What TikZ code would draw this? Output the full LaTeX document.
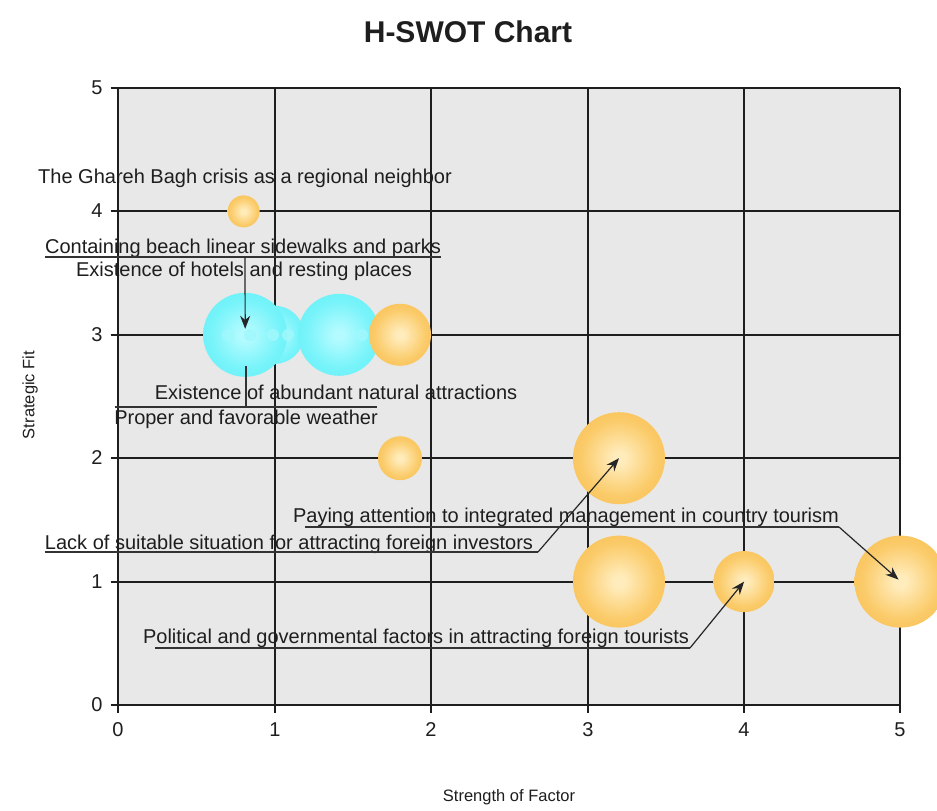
\documentclass[tikz,border=0pt]{standalone}
\usepackage{fontspec}
\setmainfont{Liberation Sans}
\usetikzlibrary{arrows.meta}
\definecolor{plotbg}{RGB}{232,232,232}
\definecolor{gridc}{RGB}{30,30,30}
\definecolor{txt}{RGB}{30,30,30}
\definecolor{oedge}{RGB}{243,170,45}
\definecolor{oout}{RGB}{247,184,66}
\definecolor{omid}{RGB}{251,204,108}
\definecolor{ocenter}{RGB}{255,236,188}
\definecolor{cedge}{RGB}{72,232,242}
\definecolor{cout}{RGB}{92,238,246}
\definecolor{cmid}{RGB}{120,244,250}
\definecolor{ccenter}{RGB}{180,251,255}
\definecolor{cdot}{RGB}{160,248,252}
\pgfdeclareradialshading{orangeball}{\pgfpoint{0bp}{0bp}}{color(0bp)=(ocenter); color(3bp)=(ocenter); color(20bp)=(omid); color(38bp)=(oout); color(50bp)=(oedge); color(100bp)=(oedge)}
\pgfdeclareradialshading{cyanball}{\pgfpoint{0bp}{0bp}}{color(0bp)=(ccenter); color(3bp)=(ccenter); color(20bp)=(cmid); color(38bp)=(cout); color(50bp)=(cedge); color(100bp)=(cedge)}
\begin{document}
\begin{tikzpicture}[x=1pt,y=-1pt,
  lab/.style={font=\fontsize{20}{24}\selectfont, inner sep=0pt, anchor=base, text=txt},
  ticklab/.style={font=\fontsize{20}{24}\selectfont, inner sep=0pt, text=txt},
  axlab/.style={font=\fontsize{16.5}{20}\selectfont, inner sep=0pt, text=txt},
  gridline/.style={draw=gridc, line width=1.8pt},
  obub/.style={circle, inner sep=0pt, draw=none, shading=orangeball},
  cbub/.style={circle, inner sep=0pt, draw=none, shading=cyanball},
  uline/.style={draw=black!80, line width=1.2pt},
  callarrow/.style={draw=black!85, line width=1.2pt, -{Stealth[length=13pt,width=10pt]}}]
\useasboundingbox (0,0) rectangle (937,811);
\fill[white] (0,0) rectangle (937,811);
\node[font=\fontsize{30}{36}\selectfont\bfseries, inner sep=0pt, anchor=base, text=txt] (title) at (468,42) {H-SWOT Chart};
\node[axlab, rotate=90] (ylab) at (30,395) {Strategic Fit};
\node[axlab] (xlab) at (509,797) {Strength of Factor};
% plot area and grid (pixel-aligned)
\fill[plotbg] (118,88) rectangle (900,705);
\foreach \gx/\i in {118/0,275/1,431/2,588/3,744/4,900/5} {
  \draw[gridline] (\gx,88) -- (\gx,713);
  \node[ticklab] (xt\i) at (\gx,730) {\i};
}
\foreach \gy/\i in {705/0,582/1,458/2,335/3,211/4,88/5} {
  \draw[gridline] (110.5,\gy) -- (900,\gy);
  \node[ticklab] (yt\i) at (97,\gy) {\i};
}
\begin{scope}[shift={(118.5,705)}, x=156.4pt, y=123.4pt]
  % cyan bubbles
  \node[cbub, minimum size=58pt] (cy2) at (1.0,3) {};
  \node[cbub, minimum size=84pt] (cy1) at (0.81,3) {};
  \node[cbub, minimum size=82pt] (cy3) at (1.41,3) {};
  % orange bubbles
  \node[obub, minimum size=32pt] (ob1) at (0.8,4) {};
  \node[obub, minimum size=62pt] (ob2) at (1.8,3) {};
  \node[obub, minimum size=44pt] (ob3) at (1.8,2) {};
  \node[obub, minimum size=92pt] (ob4) at (3.2,2) {};
  \node[obub, minimum size=92pt] (ob5) at (3.2,1) {};
  \node[obub, minimum size=61pt] (ob6) at (4,1) {};
  \node[obub, minimum size=92pt] (ob7) at (5,1) {};
\end{scope}
% highlight dots on the cyan bubbles
\foreach \px in {228,250,273,288,362} {
  \fill[cdot, opacity=0.85] (\px,335) circle (6pt);
}
% labels
\node[lab] (t1) at (245,183.5) {The Ghareh Bagh crisis as a regional neighbor};
\node[lab] (t2) at (243,253) {Containing beach linear sidewalks and parks};
\node[lab] (t3) at (244,276.5) {Existence of hotels and resting places};
\node[lab] (t4) at (336,399) {Existence of abundant natural attractions};
\node[lab] (t5) at (246,424) {Proper and favorable weather};
\node[lab] (t6) at (289,549) {Lack of suitable situation for attracting foreign investors};
\node[lab] (t7) at (566,522) {Paying attention to integrated management in country tourism};
\node[lab] (t8) at (416,643) {Political and governmental factors in attracting foreign tourists};
% callouts
\draw[uline] ([yshift=-4pt]t2.base west) -- ([yshift=-4pt]t2.base east);
\coordinate (c2) at (245,257);
\draw[callarrow] (c2) -- ([yshift=6pt]cy1.center);
\coordinate (c5) at (246,407);
\coordinate (c5e) at (246,366);
\draw[uline] (115,407) -- (377,407);
\draw[uline] (c5) -- (c5e);
\coordinate (c6) at (538,552);
\draw[uline] ([yshift=-3pt]t6.base west) -- (c6);
\draw[callarrow] (c6) -- (ob4.center);
\coordinate (c7) at (839,527);
\draw[uline] ([xshift=12pt,yshift=-5pt]t7.base west) -- (c7);
\draw[callarrow] (c7) -- ([xshift=-2pt,yshift=2pt]ob7.center);
\coordinate (c8) at (690,648);
\draw[uline] ([xshift=12pt,yshift=-5pt]t8.base west) -- (c8);
\draw[callarrow] (c8) -- (ob6.center);
\end{tikzpicture}
\end{document}
